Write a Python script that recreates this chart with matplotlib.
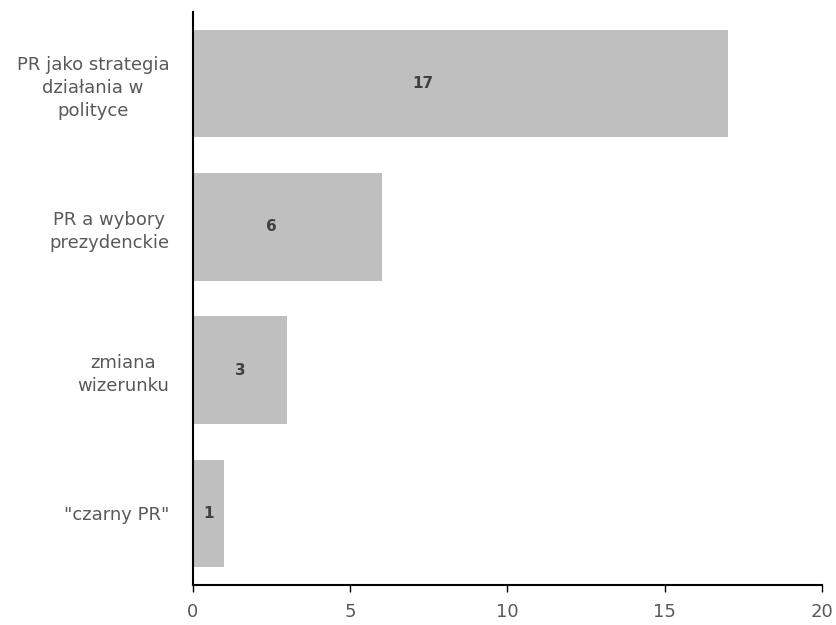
import matplotlib
matplotlib.use("Agg")
import matplotlib.pyplot as plt

categories = ["PR jako strategia\ndziałania w\npolityce", "PR a wybory\nprezydenckie", "zmiana\nwizerunku", "\"czarny PR\""]
values = [17, 6, 3, 1]
label_pos = [7.3, 2.5, 1.5, 0.48]
xticks = [0, 5, 10, 15, 20]

plt.rcParams['font.family'] = ['DejaVu Sans']

fig = plt.figure(figsize=(8.37, 6.25), dpi=100)
ax = fig.add_axes([193/837, 1-585/625, (822-193)/837, (585-12)/625])

ypos = list(range(len(categories)))
ax.barh(ypos, values, height=0.75, color="#BFBFBF")
ax.set_ylim(len(categories)-0.5, -0.5)
ax.set_xlim(0, 20)
ax.set_xticks(xticks)
ax.set_xticklabels([str(t) for t in xticks])
ax.set_yticks(ypos)
ax.set_yticklabels(categories, multialignment='center', linespacing=1.35)

for y, v, lp in zip(ypos, values, label_pos):
    ax.text(lp, y, str(v), ha='center', va='center', fontsize=11, fontweight='bold', color='#404040')

for s in ['top', 'right']:
    ax.spines[s].set_visible(False)
ax.spines['left'].set_linewidth(1.5)
ax.spines['bottom'].set_linewidth(1.5)
ax.tick_params(axis='y', length=0, pad=17, labelsize=13, labelcolor='#595959')
ax.tick_params(axis='x', length=5, width=1, direction='out', pad=8, labelsize=13, labelcolor='#595959')

fig.savefig("out.png", dpi=100)
